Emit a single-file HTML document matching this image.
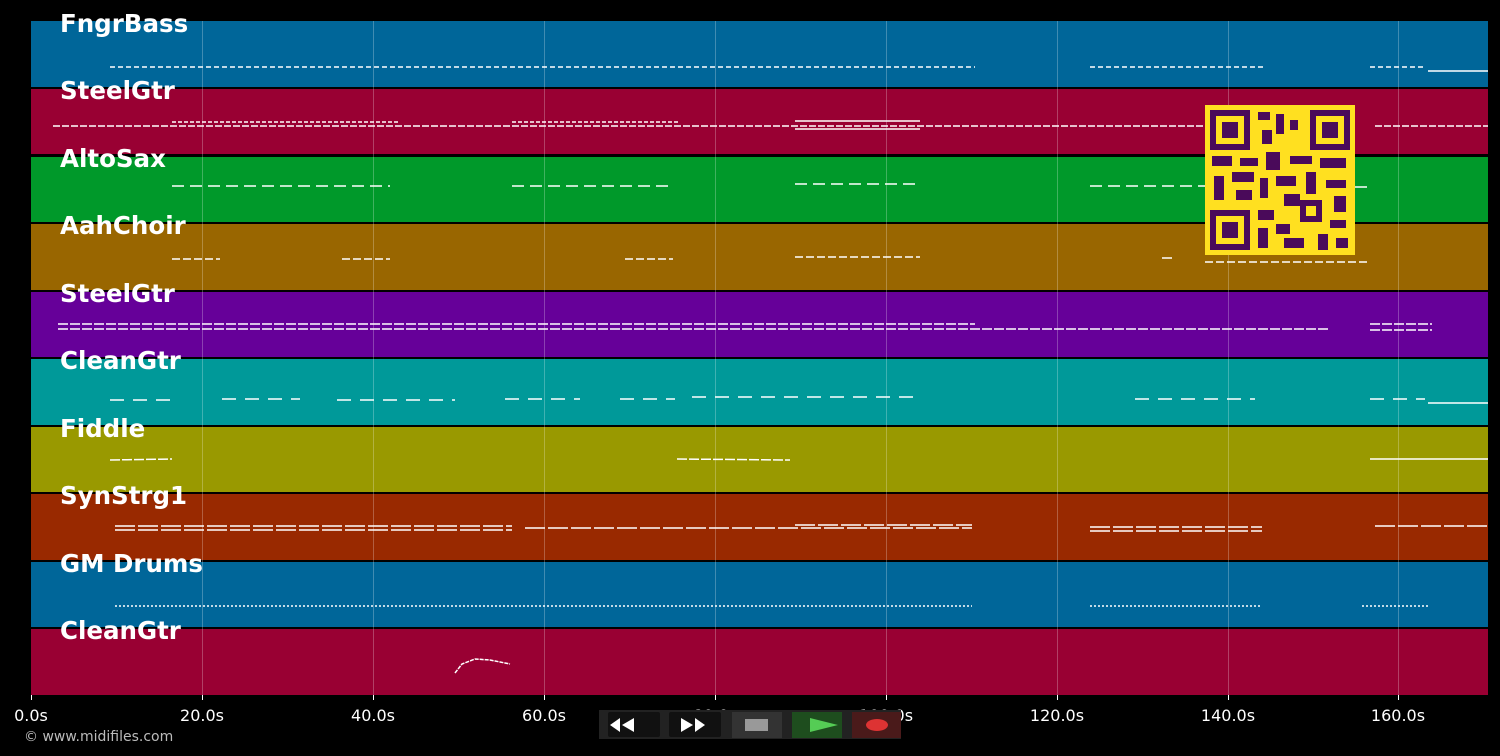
<!DOCTYPE html>
<html><head><meta charset="utf-8"><style>
html,body{margin:0;padding:0;background:#000;width:1500px;height:756px;overflow:hidden}
svg{display:block}
text{font-family:"DejaVu Sans","Liberation Sans",sans-serif}
</style></head><body>
<svg width="1500" height="756" xmlns="http://www.w3.org/2000/svg">
<rect width="1500" height="756" fill="#000"/>
<g>
<rect x="31" y="21" width="1457" height="66" fill="#006699"/>
<rect x="31" y="89" width="1457" height="65" fill="#990033"/>
<rect x="31" y="157" width="1457" height="65" fill="#00992a"/>
<rect x="31" y="224" width="1457" height="66" fill="#996600"/>
<rect x="31" y="292" width="1457" height="65" fill="#660099"/>
<rect x="31" y="359" width="1457" height="66" fill="#009999"/>
<rect x="31" y="427" width="1457" height="65" fill="#999900"/>
<rect x="31" y="494" width="1457" height="66" fill="#992900"/>
<rect x="31" y="562" width="1457" height="65" fill="#006699"/>
<rect x="31" y="629" width="1457" height="66" fill="#990033"/>
</g>
<g stroke="#ffffff" stroke-opacity="0.25" stroke-width="1">
<line x1="202.5" y1="21" x2="202.5" y2="695"/><line x1="373.5" y1="21" x2="373.5" y2="695"/>
<line x1="544.5" y1="21" x2="544.5" y2="695"/><line x1="715.5" y1="21" x2="715.5" y2="695"/>
<line x1="886.5" y1="21" x2="886.5" y2="695"/><line x1="1057.5" y1="21" x2="1057.5" y2="695"/>
<line x1="1228.5" y1="21" x2="1228.5" y2="695"/><line x1="1398.5" y1="21" x2="1398.5" y2="695"/>
</g>
<g stroke="#fff" stroke-width="1.5" fill="none">
<g stroke-dasharray="5 3"><line x1="110" y1="67" x2="975" y2="67"/><line x1="1090" y1="67" x2="1263" y2="67"/><line x1="1370" y1="67" x2="1425" y2="67"/></g>
<line x1="1428" y1="71" x2="1488" y2="71"/>
<g stroke-dasharray="7 2"><line x1="53" y1="126" x2="1205" y2="126"/><line x1="1375" y1="126" x2="1488" y2="126"/></g>
<line x1="172" y1="122" x2="400" y2="122" stroke-dasharray="4 2"/><line x1="512" y1="122" x2="680" y2="122" stroke-dasharray="4 2"/>
<line x1="795" y1="121" x2="920" y2="121"/><line x1="795" y1="129" x2="920" y2="129"/>
<g stroke-dasharray="12 6"><line x1="172" y1="186" x2="390" y2="186"/><line x1="512" y1="186" x2="672" y2="186"/><line x1="795" y1="184" x2="920" y2="184"/><line x1="1090" y1="186" x2="1205" y2="186"/><line x1="1355" y1="187" x2="1368" y2="187"/></g>
<g stroke-dasharray="8 3"><line x1="172" y1="259" x2="220" y2="259"/><line x1="342" y1="259" x2="390" y2="259"/><line x1="625" y1="259" x2="673" y2="259"/><line x1="795" y1="257" x2="920" y2="257"/><line x1="1205" y1="262" x2="1368" y2="262"/></g>
<line x1="1162" y1="258" x2="1172" y2="258"/>
<g stroke-dasharray="10 2"><line x1="58" y1="324" x2="975" y2="324"/><line x1="58" y1="329" x2="1330" y2="329"/><line x1="1370" y1="324" x2="1432" y2="324"/><line x1="1370" y1="330" x2="1432" y2="330"/></g>
<g stroke-dasharray="14 9"><line x1="110" y1="400" x2="172" y2="400"/><line x1="222" y1="399" x2="300" y2="399"/><line x1="337" y1="400" x2="455" y2="400"/><line x1="505" y1="399" x2="580" y2="399"/><line x1="620" y1="399" x2="675" y2="399"/><line x1="692" y1="397" x2="920" y2="397"/><line x1="1135" y1="399" x2="1255" y2="399"/><line x1="1370" y1="399" x2="1425" y2="399"/></g>
<line x1="1428" y1="403" x2="1488" y2="403"/>
<line x1="110" y1="460" x2="172" y2="459" stroke-dasharray="10 2"/><line x1="677" y1="459" x2="790" y2="460" stroke-dasharray="10 2"/><line x1="1370" y1="459" x2="1425" y2="459"/><line x1="1425" y1="459" x2="1488" y2="459"/>
<g stroke-dasharray="20 3"><line x1="115" y1="526" x2="512" y2="526"/><line x1="115" y1="530" x2="512" y2="530"/><line x1="525" y1="528" x2="972" y2="528"/><line x1="795" y1="525" x2="972" y2="525"/><line x1="1090" y1="527" x2="1262" y2="527"/><line x1="1090" y1="531" x2="1262" y2="531"/><line x1="1375" y1="526" x2="1488" y2="526"/></g>
<g stroke-dasharray="2 2"><line x1="115" y1="606" x2="972" y2="606"/><line x1="1090" y1="606" x2="1262" y2="606"/><line x1="1362" y1="606" x2="1428" y2="606"/></g>
<polyline points="455,673 462,664 475,659 490,660 510,664" stroke-dasharray="4 1"/>
</g>
<g>
<rect x="1205" y="105" width="150" height="150" fill="#ffe020"/>
<g fill="#4a0a5a">
<rect x="1210" y="110" width="40" height="40"/><rect x="1310" y="110" width="40" height="40"/><rect x="1210" y="210" width="40" height="40"/>
</g>
<g fill="#ffe020"><rect x="1216" y="116" width="28" height="28"/><rect x="1316" y="116" width="28" height="28"/><rect x="1216" y="216" width="28" height="28"/></g>
<g fill="#4a0a5a"><rect x="1222" y="122" width="16" height="16"/><rect x="1322" y="122" width="16" height="16"/><rect x="1222" y="222" width="16" height="16"/>
<rect x="1258" y="112" width="12" height="8"/><rect x="1276" y="114" width="8" height="20"/><rect x="1262" y="130" width="10" height="14"/><rect x="1290" y="120" width="8" height="10"/>
<rect x="1212" y="156" width="20" height="10"/><rect x="1240" y="158" width="18" height="8"/><rect x="1266" y="152" width="14" height="18"/><rect x="1290" y="156" width="22" height="8"/><rect x="1320" y="158" width="26" height="10"/>
<rect x="1214" y="176" width="10" height="24"/><rect x="1232" y="172" width="22" height="10"/><rect x="1260" y="178" width="8" height="20"/><rect x="1276" y="176" width="20" height="10"/><rect x="1306" y="172" width="10" height="22"/><rect x="1326" y="180" width="20" height="8"/>
<rect x="1236" y="190" width="16" height="10"/><rect x="1284" y="194" width="16" height="12"/><rect x="1300" y="200" width="22" height="22"/><rect x="1334" y="196" width="12" height="16"/>
<rect x="1258" y="210" width="16" height="10"/><rect x="1258" y="228" width="10" height="20"/><rect x="1276" y="224" width="14" height="10"/><rect x="1330" y="220" width="16" height="8"/><rect x="1284" y="238" width="20" height="10"/><rect x="1318" y="234" width="10" height="16"/><rect x="1336" y="238" width="12" height="10"/></g>
<rect x="1306" y="206" width="10" height="10" fill="#ffe020"/>
</g>
<g fill="#fff" font-weight="bold" font-size="24.5">
<text x="60" y="32">FngrBass</text><text x="60" y="99">SteelGtr</text><text x="60" y="167">AltoSax</text>
<text x="60" y="234">AahChoir</text><text x="60" y="302">SteelGtr</text><text x="60" y="369">CleanGtr</text>
<text x="60" y="437">Fiddle</text><text x="60" y="504">SynStrg1</text><text x="60" y="572">GM Drums</text><text x="60" y="639">CleanGtr</text>
</g>
<g stroke="#fff"><line x1="31.5" y1="695" x2="31.5" y2="700"/><line x1="202.5" y1="695" x2="202.5" y2="700"/><line x1="373.5" y1="695" x2="373.5" y2="700"/><line x1="544.5" y1="695" x2="544.5" y2="700"/><line x1="715.5" y1="695" x2="715.5" y2="700"/><line x1="886.5" y1="695" x2="886.5" y2="700"/><line x1="1057.5" y1="695" x2="1057.5" y2="700"/><line x1="1228.5" y1="695" x2="1228.5" y2="700"/><line x1="1398.5" y1="695" x2="1398.5" y2="700"/></g>
<g fill="#fff" font-size="16" text-anchor="middle">
<text x="31" y="721">0.0s</text><text x="202" y="721">20.0s</text><text x="373" y="721">40.0s</text><text x="544" y="721">60.0s</text><text x="715" y="721">80.0s</text><text x="886" y="721">100.0s</text><text x="1057" y="721">120.0s</text><text x="1228" y="721">140.0s</text><text x="1398" y="721">160.0s</text>
</g>
<text x="24" y="741" fill="#bbb" font-size="14">© www.midifiles.com</text>
<rect x="599" y="710" width="302" height="29" fill="#222"/>
<rect x="608" y="712" width="52" height="25" fill="#111" rx="2"/>
<rect x="669" y="712" width="52" height="25" fill="#111" rx="2"/>
<rect x="732" y="712" width="50" height="26" fill="#333"/>
<rect x="745" y="719" width="23" height="12" fill="#999"/>
<rect x="792" y="712" width="50" height="26" fill="#1e4d1e"/>
<polygon points="810,718 838,725 810,732" fill="#5c5"/>
<rect x="852" y="712" width="49" height="26" fill="#4a1a1a"/>
<ellipse cx="877" cy="725" rx="11" ry="6" fill="#d33"/>
<g fill="#fff"><polygon points="610,725 620,718 620,732"/><polygon points="622,725 634,718 634,732"/><polygon points="705,725 695,718 695,732"/><polygon points="693,725 681,718 681,732"/></g>
</svg>
</body></html>
